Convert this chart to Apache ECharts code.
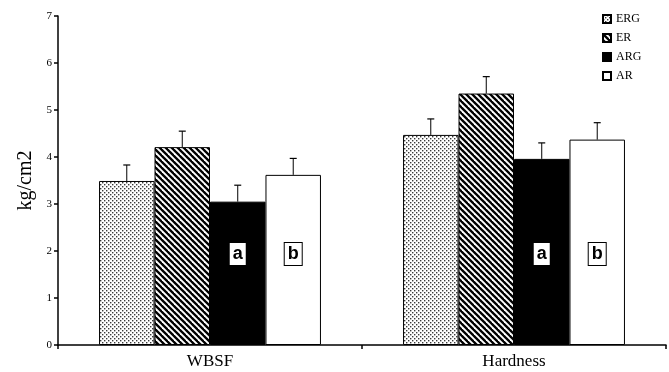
<!DOCTYPE html>
<html>
<head>
<meta charset="utf-8">
<script src="https://cdn.jsdelivr.net/npm/echarts@6/dist/echarts.min.js"></script>
<style>html,body{margin:0;padding:0;background:#fff}#c{width:669px;height:372px}</style>
</head>
<body>
<div id="c"></div>
<script>
var categories = ['WBSF', 'Hardness'];
var seriesNames = ['ERG', 'ER', 'ARG', 'AR'];
var ERG = [3.49, 4.47];
var ER = [4.21, 5.35];
var ARG = [3.05, 3.96];
var AR = [3.62, 4.37];
var ERG_err = [0.34, 0.34];
var ER_err = [0.34, 0.36];
var ARG_err = [0.35, 0.34];
var AR_err = [0.35, 0.36];
var ARG_letters = ['a', 'a'];
var AR_letters = ['b', 'b'];
var yTicks = [0, 1, 2, 3, 4, 5, 6, 7];

function dotPattern() {
  var c = document.createElement('canvas'); c.width = 4; c.height = 4;
  var g = c.getContext('2d');
  g.fillStyle = '#fff'; g.fillRect(0, 0, 4, 4);
  g.fillStyle = '#3a3a3a';
  g.fillRect(0, 0, 1.4, 1.4); g.fillRect(2, 2, 1.4, 1.4);
  return { image: c, repeat: 'repeat' };
}
function stripePattern() {
  var s = 6;
  var c = document.createElement('canvas'); c.width = s; c.height = s;
  var g = c.getContext('2d');
  g.fillStyle = '#fff'; g.fillRect(0, 0, s, s);
  g.strokeStyle = '#000'; g.lineWidth = 2.3;
  [-s, 0, s].forEach(function (k) {
    g.beginPath(); g.moveTo(k - 1, -1); g.lineTo(k + s + 1, s + 1); g.stroke();
  });
  return { image: c, repeat: 'repeat' };
}

var fills = [dotPattern(), stripePattern(), '#000', '#fff'];
var values = [ERG, ER, ARG, AR];
var errs = [ERG_err, ER_err, ARG_err, AR_err];
var letters = [null, null, ARG_letters, AR_letters];
var serif = 'Liberation Serif';
var catGap = 0.27;

var series = [];
seriesNames.forEach(function (name, i) {
  var s = {
    name: name, type: 'bar', barGap: '0%', barCategoryGap: (catGap * 100) + '%',
    data: values[i],
    itemStyle: { color: fills[i], borderColor: '#000', borderWidth: 1 },
    emphasis: { disabled: true }
  };
  if (letters[i]) {
    var L = letters[i];
    s.label = {
      show: true, position: 'insideBottom', distance: 80,
      formatter: function (p) { return L[p.dataIndex]; },
      fontFamily: 'Liberation Sans', fontWeight: 'bold', fontSize: 18, color: '#000',
      backgroundColor: '#fff', borderColor: '#000', borderWidth: 1,
      padding: [2, 3, 1, 3], lineHeight: 19
    };
  }
  series.push(s);
});

var errData = [];
for (var i = 0; i < 4; i++) for (var j = 0; j < categories.length; j++)
  errData.push([j, values[i][j], values[i][j] + errs[i][j], i]);

series.push({
  type: 'custom', silent: true, z: 5,
  data: errData,
  encode: { x: 0, y: [1, 2] },
  renderItem: function (params, api) {
    var cat = api.value(0), lo = api.value(1), hi = api.value(2), idx = api.value(3);
    var bandW = api.size([1, 0])[0];
    var bw = bandW * (1 - catGap) / 4;
    var base = api.coord([cat, lo]);
    var top = api.coord([cat, hi]);
    var x = base[0] + (idx - 1.5) * bw;
    return {
      type: 'group', children: [
        { type: 'line', shape: { x1: x, y1: base[1], x2: x, y2: top[1] }, style: { stroke: '#000', lineWidth: 1 } },
        { type: 'line', shape: { x1: x - 3.5, y1: top[1], x2: x + 3.5, y2: top[1] }, style: { stroke: '#000', lineWidth: 1.2 } }
      ]
    };
  }
});

var chart = echarts.init(document.getElementById('c'));
chart.setOption({
  animation: false,
  backgroundColor: '#fff',
  grid: { left: 58, right: 3, top: 16, bottom: 27, containLabel: false },
  legend: {
    data: seriesNames.map(function (n) { return { name: n, icon: 'rect' }; }),
    orient: 'vertical', left: 597, top: 8,
    itemWidth: 8, itemHeight: 8, itemGap: 7,
    textStyle: { fontFamily: serif, fontSize: 12, color: '#000' },
    selectedMode: false
  },
  xAxis: {
    type: 'category', data: categories,
    axisLine: { lineStyle: { color: '#000', width: 1.5 } },
    axisTick: { show: true, inside: false, length: 4, lineStyle: { color: '#000', width: 1.5 } },
    axisLabel: { fontFamily: serif, fontSize: 17, color: '#000', margin: 8 }
  },
  yAxis: {
    type: 'value', min: yTicks[0], max: yTicks[yTicks.length - 1], interval: 1,
    name: 'kg/cm2', nameLocation: 'middle', nameGap: 22, nameRotate: 90,
    nameTextStyle: { fontFamily: serif, fontSize: 20, color: '#000' },
    splitLine: { show: false },
    axisLine: { show: true, lineStyle: { color: '#000', width: 1.5 } },
    axisTick: { show: true, length: 4, lineStyle: { color: '#000', width: 1.5 } },
    axisLabel: { fontFamily: serif, fontSize: 11, color: '#000', margin: 6 }
  },
  series: series
});
</script>
</body>
</html>
